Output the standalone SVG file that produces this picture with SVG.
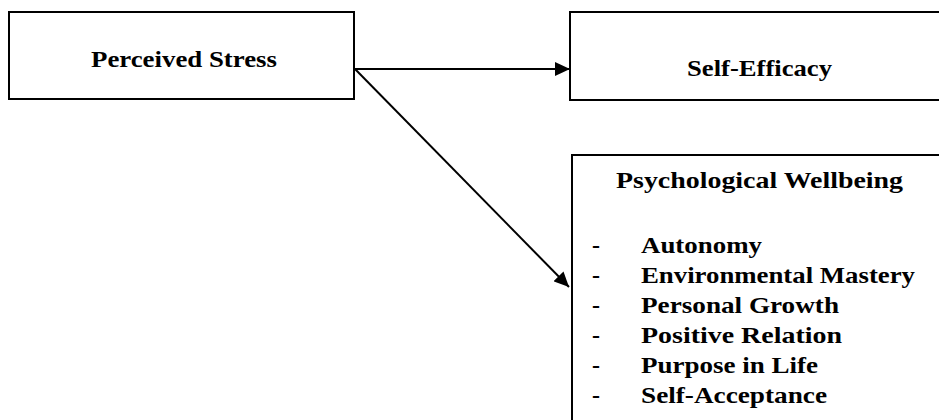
<svg xmlns="http://www.w3.org/2000/svg" width="939" height="420" viewBox="0 0 939 420">
<style>
.box{fill:#fff;stroke:#000;stroke-width:2}
.t{font-family:"Liberation Serif","Times New Roman",serif;font-weight:bold;font-size:24px;fill:#000}
.c{fill:none;stroke:#000;stroke-width:2}
</style>
<defs>
<marker id="ah" viewBox="0 0 15 14" refX="15" refY="7" markerWidth="15" markerHeight="14" markerUnits="userSpaceOnUse" orient="auto">
<path d="M0,0 L15,7 L0,14 z" fill="#000"/>
</marker>
</defs>
<rect width="939" height="420" fill="#fff"/>
<g id="perceived-stress">
<rect class="box" x="9" y="12" width="345" height="87"/>
<text class="t" x="91" y="67" textLength="186" lengthAdjust="spacingAndGlyphs">Perceived Stress</text>
</g>
<g id="self-efficacy">
<rect class="box" x="570" y="12" width="400" height="88"/>
<text class="t" x="687" y="76" textLength="145" lengthAdjust="spacingAndGlyphs">Self-Efficacy</text>
</g>
<g id="psychological-wellbeing">
<rect class="box" x="572" y="155" width="400" height="300"/>
<text class="t" x="616" y="188" textLength="287" lengthAdjust="spacingAndGlyphs">Psychological Wellbeing</text>
<text class="t" x="592" y="253">-</text>
<text class="t" x="641" y="253" textLength="121" lengthAdjust="spacingAndGlyphs">Autonomy</text>
<text class="t" x="592" y="283">-</text>
<text class="t" x="641" y="283" textLength="274" lengthAdjust="spacingAndGlyphs">Environmental Mastery</text>
<text class="t" x="592" y="313">-</text>
<text class="t" x="641" y="313" textLength="198" lengthAdjust="spacingAndGlyphs">Personal Growth</text>
<text class="t" x="592" y="343">-</text>
<text class="t" x="641" y="343" textLength="201" lengthAdjust="spacingAndGlyphs">Positive Relation</text>
<text class="t" x="592" y="373">-</text>
<text class="t" x="641" y="373" textLength="177" lengthAdjust="spacingAndGlyphs">Purpose in Life</text>
<text class="t" x="592" y="403">-</text>
<text class="t" x="641" y="403" textLength="186" lengthAdjust="spacingAndGlyphs">Self-Acceptance</text>
</g>
<g id="connectors">
<line class="c" x1="355" y1="69" x2="570" y2="69" marker-end="url(#ah)"/>
<line class="c" x1="355" y1="69" x2="569" y2="287" marker-end="url(#ah)"/>
</g>
</svg>
